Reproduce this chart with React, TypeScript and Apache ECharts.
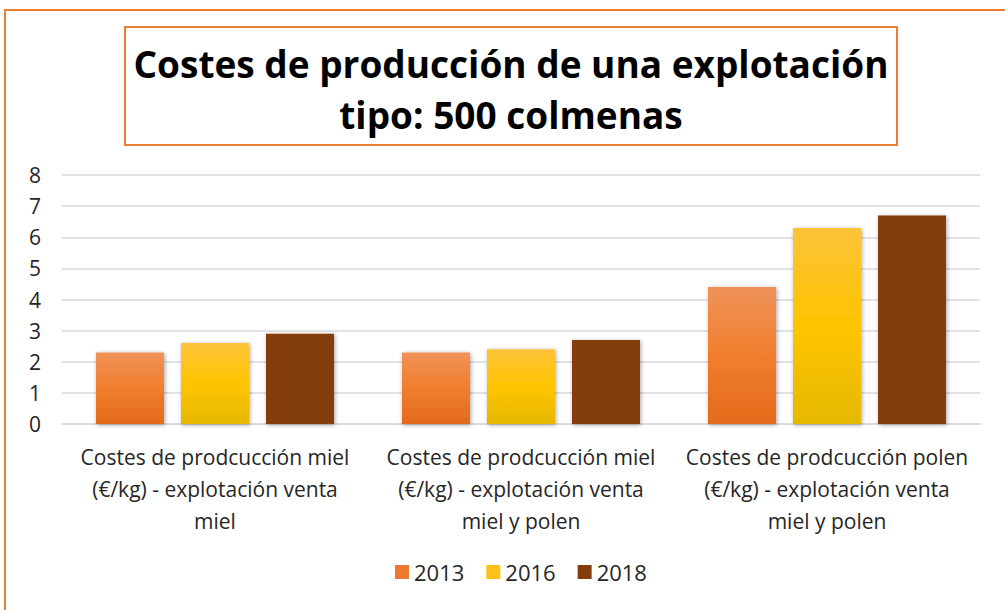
import React, { useEffect, useRef } from "react";
import * as echarts from "echarts";

const categories = [
  "Costes de prodcucción miel\n(€/kg) - explotación venta\nmiel",
  "Costes de prodcucción miel\n(€/kg) - explotación venta\nmiel y polen",
  "Costes de prodcucción polen\n(€/kg) - explotación venta\nmiel y polen",
];
const seriesNames = ["2013", "2016", "2018"];
const values2013 = [2.3, 2.3, 4.4];
const values2016 = [2.6, 2.4, 6.3];
const values2018 = [2.9, 2.7, 6.7];
const yTicks = [0, 1, 2, 3, 4, 5, 6, 7, 8];
const titleLines = ["Costes de producción de una explotación", "tipo: 500 colmenas"];

const FONT = "'Open Sans', 'Noto Sans', sans-serif";
const TEXT = "#262626";

export default function App() {
  const ref = useRef<HTMLDivElement>(null);
  useEffect(() => {
    if (!ref.current) return;
    const chart = echarts.init(ref.current, null, { renderer: "svg" });
    const grad = (top: string, mid: string, bot: string) =>
      new echarts.graphic.LinearGradient(0, 0, 0, 1, [
        { offset: 0, color: top },
        { offset: 0.5, color: mid },
        { offset: 1, color: bot },
      ]);
    const colors = [
      grad("#F0935A", "#F07E2D", "#E36A1B"),
      grad("#FDC33A", "#FFC400", "#E5B800"),
      "#843C0C",
    ];
    const legendColors = ["#EE7A30", "#FCC21A", "#843C0C"];
    const data = [values2013, values2016, values2018];
    chart.setOption({
      animation: false,
      backgroundColor: "#ffffff",
      graphic: [
        {
          type: "rect",
          shape: { x: 5, y: 10, width: 1020, height: 640 },
          style: { fill: "none", stroke: "#ED7D31", lineWidth: 2 },
          silent: true,
        },
        {
          type: "rect",
          shape: { x: 125, y: 27, width: 772, height: 118 },
          style: { fill: "#fff", stroke: "#ED7D31", lineWidth: 2 },
          silent: true,
        },
        {
          type: "text",
          x: 511,
          y: 63,
          style: {
            text: titleLines[0],
            font: `bold 37px ${FONT}`,
            fill: "#000",
            textAlign: "center",
            textVerticalAlign: "middle",
          },
        },
        {
          type: "text",
          x: 511,
          y: 114,
          style: {
            text: titleLines[1],
            font: `bold 37px ${FONT}`,
            fill: "#000",
            textAlign: "center",
            textVerticalAlign: "middle",
          },
        },
      ],
      legend: {
        data: seriesNames.map((n, i) => ({ name: n, itemStyle: { color: legendColors[i] } })),
        bottom: 22,
        left: 390,
        icon: "rect",
        itemWidth: 14,
        itemHeight: 14,
        itemGap: 22,
        textStyle: { fontSize: 22, color: TEXT, fontFamily: FONT },
      },
      grid: { left: 62, right: 25, top: 175, bottom: 186 },
      xAxis: {
        type: "category",
        data: categories,
        axisLine: { lineStyle: { color: "#D9D9D9", width: 1.5 } },
        axisTick: { show: false },
        axisLabel: {
          interval: 0,
          fontSize: 21,
          lineHeight: 32,
          color: TEXT,
          fontFamily: FONT,
          margin: 17,
        },
      },
      yAxis: {
        type: "value",
        min: yTicks[0],
        max: yTicks[yTicks.length - 1],
        interval: 1,
        axisLine: { show: false },
        axisTick: { show: false },
        splitLine: { lineStyle: { color: "#D9D9D9", width: 1.5 } },
        axisLabel: { fontSize: 21, color: TEXT, fontFamily: FONT, margin: 21 },
      },
      series: seriesNames.map((n, i) => ({
        name: n,
        type: "bar",
        data: data[i],
        barWidth: 68,
        barGap: "25%",
        itemStyle: {
          color: colors[i],
          shadowBlur: 4,
          shadowColor: "rgba(0,0,0,0.35)",
          shadowOffsetX: 1,
          shadowOffsetY: 1,
        },
      })),
    });
    return () => chart.dispose();
  }, []);
  return (
    <div
      ref={ref}
      style={{ position: "fixed", left: 0, top: 0, width: 1005, height: 610 }}
    />
  );
}
